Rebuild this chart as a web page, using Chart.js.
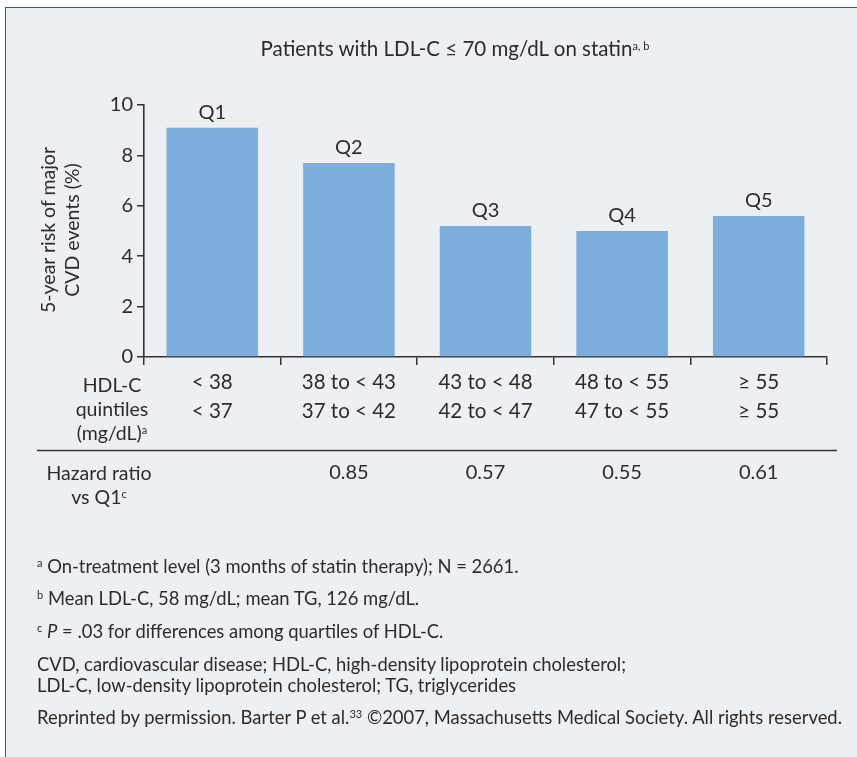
<!DOCTYPE html>
<html><head><meta charset="utf-8">
<script src="https://cdn.jsdelivr.net/npm/chart.js@4.4.1/dist/chart.umd.min.js"></script>
<style>
html,body{margin:0;padding:0;background:#fff;width:857px;height:757px;overflow:hidden;font-family:Lato,sans-serif;color:#2b2b2b}
#frame{position:absolute;left:5px;top:7px;width:900px;height:800px;background:#edf0f3;border-left:1.5px solid #555;border-top:1.5px solid #555}
#wrap{position:absolute;left:0;top:0;width:857px;height:757px}
.t{position:absolute;white-space:nowrap;font-size:19.5px;line-height:24px}
.fn{position:absolute;left:37px;white-space:nowrap;font-size:18.4px;line-height:20px}
sup{font-size:11px;line-height:0;vertical-align:baseline;position:relative;top:-0.55em}
</style></head>
<body>
<div id="frame"></div>
<div id="wrap"><canvas id="c" width="857" height="757"></canvas></div>
<div class="t" style="left:0;width:910px;text-align:center;top:36px;font-size:20.5px">Patients with LDL-C ≤ 70 mg/dL on statin<sup>a, b</sup></div>
<div class="t" style="left:-70px;top:206px;width:260px;text-align:center;transform:rotate(-90deg);line-height:24px">5-year risk of major<br>CVD events (%)</div>
<div class="t" style="left:52px;width:120px;text-align:center;top:373px;line-height:24px">HDL-C<br>quintiles<br>(mg/dL)<sup>a</sup></div>
<div class="t" style="left:39px;width:120px;text-align:center;top:461px;line-height:24px">Hazard ratio<br>vs Q1<sup>c</sup></div>
<div class="fn" style="top:556px"><sup>a</sup> On-treatment level (3 months of statin therapy); N = 2661.</div>
<div class="fn" style="top:588px"><sup>b</sup> Mean LDL-C, 58 mg/dL; mean TG, 126 mg/dL.</div>
<div class="fn" style="top:621px"><sup>c</sup> <i>P</i> = .03 for differences among quartiles of HDL-C.</div>
<div class="fn" style="top:654px">CVD, cardiovascular disease; HDL-C, high-density lipoprotein cholesterol;</div>
<div class="fn" style="top:675px">LDL-C, low-density lipoprotein cholesterol; TG, triglycerides</div>
<div class="fn" style="top:707px">Reprinted by permission. Barter P et al.<sup>33</sup> ©2007, Massachusetts Medical Society. All rights reserved.</div>
<script>
const categories = ['Q1', 'Q2', 'Q3', 'Q4', 'Q5'];
const riskPercent = [9.1, 7.7, 5.2, 5.0, 5.6];
const hdlRangesOnTreatment = ['< 38', '38 to < 43', '43 to < 48', '48 to < 55', '≥ 55'];
const hdlRangesBaseline = ['< 37', '37 to < 42', '42 to < 47', '47 to < 55', '≥ 55'];
const hazardRatios = [null, 0.85, 0.57, 0.55, 0.61];
const yTicks = [0, 2, 4, 6, 8, 10];

const TEXT = '#2b2b2b';
const AXIS = '#333';
const FONT = 'Lato, sans-serif';

const tablePlugin = {
  id: 'tablePlugin',
  afterDatasetsDraw(chart) {
    const ctx = chart.ctx;
    const meta = chart.getDatasetMeta(0);
    ctx.save();
    ctx.fillStyle = TEXT;
    ctx.font = '20px ' + FONT;
    ctx.textAlign = 'center';
    ctx.textBaseline = 'middle';
    meta.data.forEach((bar, i) => {
      ctx.fillText(categories[i], bar.x, bar.y - 15);
    });
    ctx.restore();
  },
  afterDraw(chart) {
    const ctx = chart.ctx;
    const xs = chart.scales.x;
    ctx.save();
    ctx.strokeStyle = AXIS;
    ctx.lineWidth = 1.5;
    ctx.beginPath();
    ctx.moveTo(37, 450.5);
    ctx.lineTo(837, 450.5);
    ctx.stroke();
    ctx.fillStyle = TEXT;
    ctx.font = '20px ' + FONT;
    ctx.textAlign = 'center';
    ctx.textBaseline = 'middle';
    hazardRatios.forEach((v, i) => {
      if (v !== null) ctx.fillText(v.toFixed(2), xs.getPixelForValue(i), 473);
    });
    ctx.restore();
  }
};

new Chart(document.getElementById('c'), {
  type: 'bar',
  data: {
    labels: categories.map((c, i) => [hdlRangesOnTreatment[i], hdlRangesBaseline[i]]),
    datasets: [{
      data: riskPercent,
      backgroundColor: '#7baedd',
      borderWidth: 0,
      categoryPercentage: 1,
      barPercentage: 0.67
    }]
  },
  options: {
    responsive: false,
    animation: false,
    events: [],
    layout: { padding: { top: 105, left: 0, right: 30, bottom: 310 } },
    plugins: { legend: { display: false }, tooltip: { enabled: false }, title: { display: false } },
    scales: {
      x: {
        offset: true,
        grid: { offset: true, drawOnChartArea: false, drawTicks: true, tickLength: 8, color: AXIS, lineWidth: 1.5 },
        border: { display: true, color: AXIS, width: 1.6 },
        ticks: { color: TEXT, font: { family: FONT, size: 20.5, lineHeight: 1.42 }, padding: 3, maxRotation: 0, autoSkip: false },
        afterFit(s) { s.height = 90; }
      },
      y: {
        min: 0, max: 10,
        afterBuildTicks(s) { s.ticks = yTicks.map(v => ({ value: v })); },
        grid: { drawOnChartArea: false, drawTicks: true, tickLength: 7, color: AXIS, lineWidth: 1.5 },
        border: { display: true, color: AXIS, width: 1.6 },
        ticks: { color: TEXT, font: { family: FONT, size: 20 }, padding: 4 },
        afterFit(s) { s.width = 144; }
      }
    }
  },
  plugins: [tablePlugin]
});
</script>
</body></html>
